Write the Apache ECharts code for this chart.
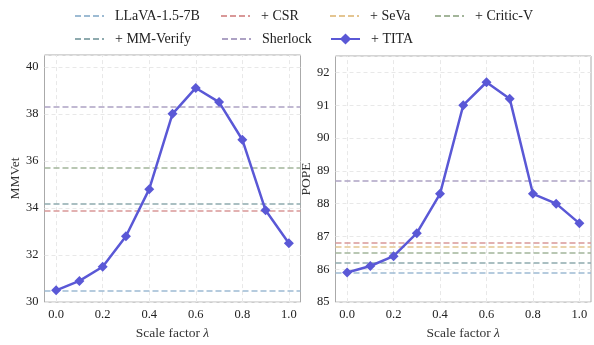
<!DOCTYPE html>
<html><head><meta charset="utf-8">
<script src="https://cdn.jsdelivr.net/npm/echarts@6/dist/echarts.min.js"></script>
<style>html,body{margin:0;padding:0;background:#fff}#c{width:594px;height:345px}</style>
</head><body><div id="c"></div>
<script>
const lambdas = [0.0,0.1,0.2,0.3,0.4,0.5,0.6,0.7,0.8,0.9,1.0];
const mmvetTITA = [30.5,30.9,31.5,32.8,34.8,38.0,39.1,38.5,36.9,33.9,32.5];
const popeTITA  = [85.9,86.1,86.4,87.1,88.3,91.0,91.7,91.2,88.3,88.0,87.4];
const baselineNames = ['LLaVA-1.5-7B','+ CSR','+ SeVa','+ Critic-V','+ MM-Verify','Sherlock'];
const mmvetBaselines = [30.5,33.9,null,35.7,34.2,38.3];
const popeBaselines  = [85.9,86.8,86.7,86.5,86.2,88.7];
const xTicks = [0.0,0.2,0.4,0.6,0.8,1.0];
const titaName = '+ TITA';

const baselineColors = ['#9DBBD3','#D99898','#E4C591','#A3B59A','#8EAAAE','#ADA2C4'];
const titaColor = '#5A58D6';
const FONT = 'Liberation Serif';

const chart = echarts.init(document.getElementById('c'), null, {renderer:'canvas'});

function xAxisCfg(gi){
  return {
    type:'value', gridIndex:gi, min:-0.05, max:1.05,
    axisLine:{show:false}, axisTick:{show:false}, splitLine:{show:false},
    axisLabel:{customValues:xTicks, formatter:v=>v.toFixed(1), fontFamily:FONT, fontSize:12.5, color:'#222', margin:6},
    name:'Scale factor {i|λ}', nameLocation:'middle', nameGap:21,
    nameTextStyle:{fontFamily:FONT, fontSize:13.5, color:'#333', rich:{i:{fontFamily:FONT, fontStyle:'italic', fontSize:13.5, color:'#333'}}}
  };
}
function yAxisCfg(gi, min, max, name, gap){
  return {
    type:'value', gridIndex:gi, min:min, max:max, interval:gi===0?2:1,
    axisLine:{show:false}, axisTick:{show:false},
    splitLine:{show:true, lineStyle:{color:'#e8e8e8', type:[4,3], width:1}},
    axisLabel:{showMaxLabel:false, fontFamily:FONT, fontSize:12.5, color:'#222', margin:6},
    name:name, nameLocation:'middle', nameGap:gap, nameRotate:90,
    nameTextStyle:{fontFamily:FONT, fontSize:13.5, color:'#333'}
  };
}

const series = [];
[0,1].forEach(gi=>{
  series.push({
    type:'line', xAxisIndex:gi, yAxisIndex:gi, data:[], silent:true, z:1,
    markLine:{silent:true, symbol:'none', z:1, label:{show:false},
      lineStyle:{color:'#e8e8e8', type:[4,3], width:1},
      data: xTicks.map(v=>({xAxis:v}))}
  });
});
baselineNames.forEach((n,i)=>{
  [[0,mmvetBaselines],[1,popeBaselines]].forEach(([gi,arr])=>{
    const v = arr[i];
    series.push({
      name:n, type:'line', xAxisIndex:gi, yAxisIndex:gi, data:[], symbol:'none', z:2,
      lineStyle:{color:baselineColors[i], type:[6,3], width:2.5},
      itemStyle:{color:baselineColors[i]},
      markLine: v==null ? undefined : {silent:true, symbol:'none', z:2, label:{show:false},
        lineStyle:{color:baselineColors[i], type:[6,3], width:1.5},
        data:[{yAxis:v}]}
    });
  });
});
[[0,mmvetTITA],[1,popeTITA]].forEach(([gi,arr])=>{
  series.push({
    name:titaName, type:'line', xAxisIndex:gi, yAxisIndex:gi, z:10,
    data: lambdas.map((x,k)=>[x,arr[k]]),
    symbol:'diamond', symbolSize:10, showAllSymbol:true,
    lineStyle:{color:titaColor, width:2.5},
    itemStyle:{color:titaColor}
  });
});

const legendPos = [
  ['LLaVA-1.5-7B',74,9],['+ CSR',220,9],['+ SeVa',329,9],['+ Critic-V',434,9],
  ['+ MM-Verify',74,32],['Sherlock',221,32],['+ TITA',330,32]
];
const legends = legendPos.map(([n,x,y])=>({
  data:[n], left:x, top:y, itemWidth:29, itemHeight:14, itemGap:0, padding:0,
  selectedMode:false,
  itemStyle: n===titaName ? {} : {opacity:0},
  textStyle:{fontFamily:FONT, fontSize:14, color:'#222', padding:[0,0,0,6]}
}));

chart.setOption({
  animation:false,
  legend: legends,
  grid:[
    {left:44.5, top:55, right:293.5, bottom:32, show:true, borderColor:'#aaaaaa', borderWidth:1, containLabel:false},
    {left:335.5, top:56, right:3, bottom:30, show:true, borderColor:'#aaaaaa', borderWidth:1, containLabel:false}
  ],
  xAxis:[xAxisCfg(0), xAxisCfg(1)],
  yAxis:[yAxisCfg(0,30,40.5,'MMVet',17), yAxisCfg(1,85,92.5,'POPE',19)],
  series: series
});
</script></body></html>
